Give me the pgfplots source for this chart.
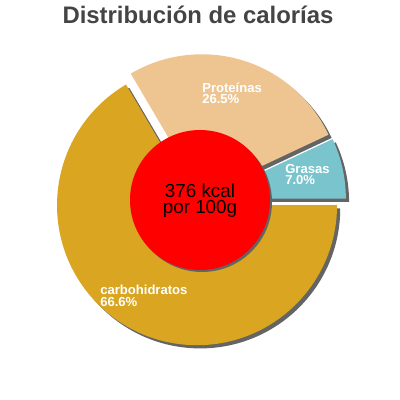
\documentclass[border=0pt]{standalone}
\usepackage{pgfplots}
\pgfplotsset{compat=1.18}
\usepackage{fontspec}
\setmainfont{Liberation Sans}

\definecolor{carbs}{HTML}{DAA520}
\definecolor{prot}{HTML}{EEC591}
\definecolor{fat}{HTML}{7AC5CD}
\definecolor{shadowgray}{HTML}{646464}
\definecolor{titlegray}{HTML}{444444}

% share of each slice (percent), total 100.1
\newcommand{\tot}{100.1}
% #1 start angle, #2 end angle, #3 colour, #4 extra offset (shadow)
\newcommand{\pieslice}[4]{%
  \fill[#3] (axis cs:200,200) ++({(#1+#2)/2}:0.15cm) ++(#4)
    -- ++(#1:3.5cm) arc[start angle=#1, end angle=#2, radius=3.5cm] -- cycle;}

\begin{document}
\begin{tikzpicture}
\begin{axis}[
    width=10cm, height=10cm, scale only axis,
    xmin=0, xmax=400, ymin=0, ymax=400, y dir=reverse,
    hide axis, clip=false,
]
\path (axis cs:0,0) rectangle (axis cs:400,400);

% shadows
\pieslice{0}{-66.6/\tot*360}{shadowgray}{0.08cm,-0.08cm}
\pieslice{-66.6/\tot*360}{-93.1/\tot*360}{shadowgray}{0.08cm,-0.08cm}
\pieslice{7.0/\tot*360}{0}{shadowgray}{0.08cm,-0.08cm}

% slices
\pieslice{0}{-66.6/\tot*360}{carbs}{0,0}
\pieslice{-66.6/\tot*360}{-93.1/\tot*360}{prot}{0,0}
\pieslice{7.0/\tot*360}{0}{fat}{0,0}

% centre disc
\fill[shadowgray] (axis cs:202,202) circle[radius=1.75cm];
\fill[red] (axis cs:200,200) circle[radius=1.75cm];

% labels
\tikzset{lbl/.style={anchor=base west, white, inner sep=0pt, align=left,
  font=\bfseries\fontsize{9.3}{8.4}\selectfont}}
\node[lbl] at (axis cs:202,104) {Proteínas\\26.5\%};
\node[lbl] at (axis cs:285,185) {Grasas\\7.0\%};
\node[lbl] at (axis cs:100,306) {carbohidratos\\66.6\%};

\node[anchor=base, inner sep=0pt, align=center, font=\fontsize{13.4}{11.7}\selectfont]
  at (axis cs:200,214) {376 kcal\\por 100g};

\node[anchor=base, inner sep=0pt, titlegray, font=\bfseries\fontsize{17}{20}\selectfont] at (axis cs:198,24) {Distribución de calorías};
\end{axis}
\end{tikzpicture}
\end{document}
